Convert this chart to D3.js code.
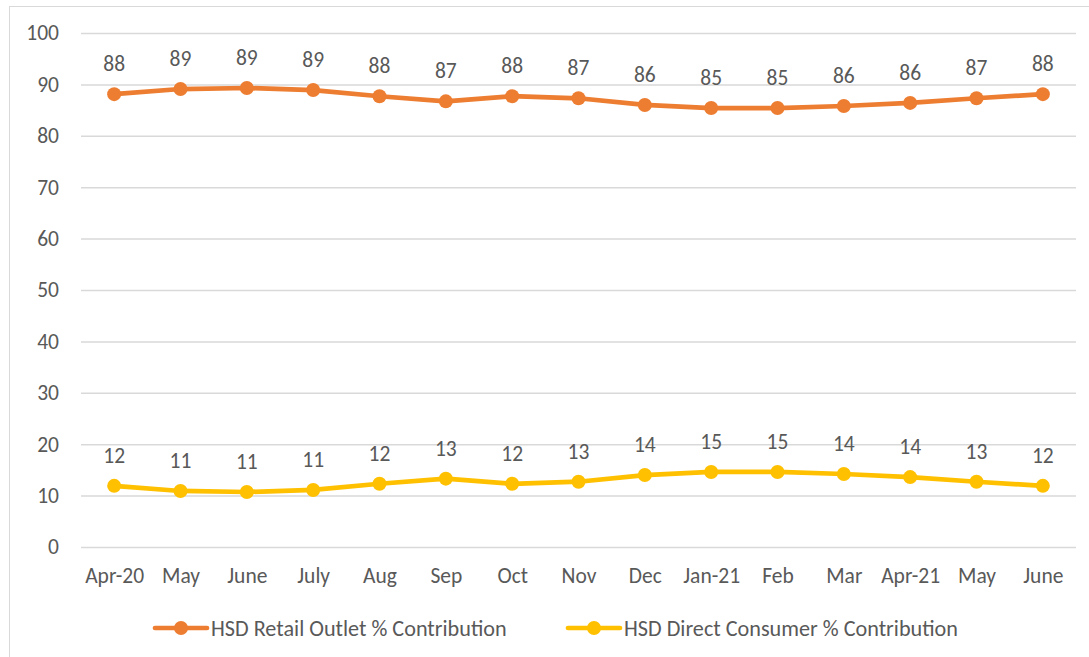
<!DOCTYPE html>
<html>
<head>
<meta charset="utf-8">
<script src="https://cdn.jsdelivr.net/npm/d3@7"></script>
<style>
  html, body { margin: 0; padding: 0; background: #fff; }
  svg text { font-family: Carlito, Calibri, "Noto Sans", "Liberation Sans", sans-serif; fill: #595959; }
</style>
</head>
<body>
<div id="chart"></div>
<script>
// Categories and series
const months = ["Apr-20", "May", "June", "July", "Aug", "Sep", "Oct", "Nov",
  "Dec", "Jan-21", "Feb", "Mar", "Apr-21", "May", "June"];
const retailOutlet = [88.1, 89.1, 89.3, 88.9, 87.7, 86.7, 87.7, 87.3, 86.0, 85.4, 85.4, 85.8, 86.4, 87.3, 88.1];
const directConsumer = [11.9, 10.9, 10.7, 11.1, 12.3, 13.3, 12.3, 12.7, 14.0, 14.6, 14.6, 14.2, 13.6, 12.7, 11.9];
const yTicks = [0, 10, 20, 30, 40, 50, 60, 70, 80, 90, 100];

const seriesList = [
  { name: "HSD Retail Outlet % Contribution", values: retailOutlet, color: "#ed7d31" },
  { name: "HSD Direct Consumer % Contribution", values: directConsumer, color: "#ffc000" },
];

const width = 1089, height = 657;
const margin = { left: 81, right: 13, top: 33, bottom: 110 };
const FONT = 21.5;

const svg = d3.select("#chart").append("svg")
  .attr("width", width).attr("height", height);

// chart frame (only left/top edges show in the crop)
svg.append("rect")
  .attr("x", 9.5).attr("y", 6.5)
  .attr("width", width + 10).attr("height", height + 10)
  .attr("fill", "none").attr("stroke", "#d9d9d9");

const x = d3.scalePoint()
  .domain(d3.range(months.length))
  .range([margin.left, width - margin.right])
  .padding(0.5);

const y = d3.scaleLinear()
  .domain([0, 100])
  .range([height - margin.bottom, margin.top]);

// gridlines + y labels
const yAxis = svg.append("g")
  .attr("transform", `translate(${margin.left},0)`)
  .call(d3.axisLeft(y).tickValues(yTicks)
    .tickSize(-(width - margin.left - margin.right))
    .tickPadding(22));
yAxis.select(".domain").remove();
yAxis.selectAll(".tick line").attr("stroke", "#d9d9d9").attr("stroke-width", 1.5);
yAxis.selectAll(".tick text").attr("font-size", FONT).attr("fill", "#595959");

// x labels
const xAxis = svg.append("g")
  .attr("transform", `translate(0,${height - margin.bottom})`)
  .call(d3.axisBottom(x).tickSize(0).tickPadding(21).tickFormat((i) => months[i]));
xAxis.select(".domain").remove();
xAxis.selectAll(".tick text").attr("font-size", FONT).attr("fill", "#595959");

const line = d3.line()
  .x((d, i) => x(i))
  .y((d) => y(d));

const gSeries = svg.selectAll("g.series")
  .data(seriesList)
  .join("g")
  .attr("class", "series");

gSeries.append("path")
  .attr("d", (s) => line(s.values))
  .attr("fill", "none")
  .attr("stroke", (s) => s.color)
  .attr("stroke-width", 4.7)
  .attr("stroke-linejoin", "round")
  .attr("stroke-linecap", "round");

gSeries.each(function (s) {
  const g = d3.select(this);
  g.selectAll("circle")
    .data(s.values)
    .join("circle")
    .attr("cx", (d, i) => x(i))
    .attr("cy", (d) => y(d))
    .attr("r", 7)
    .attr("fill", s.color);
  g.selectAll("text.lbl")
    .data(s.values)
    .join("text")
    .attr("class", "lbl")
    .attr("x", (d, i) => x(i))
    .attr("y", (d) => y(d) - 23)
    .attr("text-anchor", "middle")
    .attr("font-size", FONT)
    .text((d) => Math.round(d));
});

// legend
const legendItems = [
  { s: seriesList[0], x0: 155 },
  { s: seriesList[1], x0: 568 },
];
const legY = 628;
const leg = svg.selectAll("g.leg")
  .data(legendItems)
  .join("g")
  .attr("class", "leg")
  .attr("transform", (d) => `translate(${d.x0},${legY})`);
leg.append("line")
  .attr("x1", 0).attr("x2", 52)
  .attr("stroke", (d) => d.s.color)
  .attr("stroke-width", 4.7)
  .attr("stroke-linecap", "round");
leg.append("circle")
  .attr("cx", 26).attr("r", 7)
  .attr("fill", (d) => d.s.color);
leg.append("text")
  .attr("x", 56).attr("dy", "0.35em")
  .attr("font-size", 22.2)
  .text((d) => d.s.name);
</script>
</body>
</html>
